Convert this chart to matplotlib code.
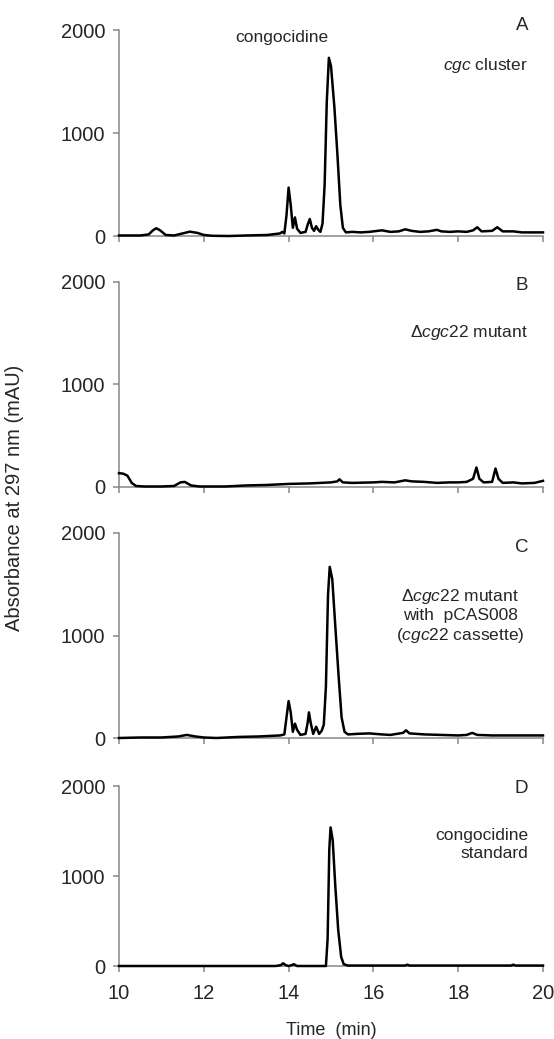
import matplotlib
matplotlib.use('Agg')
import matplotlib.pyplot as plt

plt.rcParams['font.family'] = ['Liberation Sans', 'DejaVu Sans']
plt.rcParams['mathtext.fontset'] = 'custom'
plt.rcParams['mathtext.rm'] = 'Liberation Sans'
plt.rcParams['mathtext.it'] = 'Liberation Sans:italic'

# chromatogram traces: time (min), absorbance (mAU)
time_a = [10.0, 10.5, 10.7, 10.8, 10.88, 10.97, 11.1, 11.3, 11.5, 11.67, 11.85, 12.0, 12.2, 12.6, 13.0, 13.5,
          13.7, 13.8, 13.85, 13.9, 13.95, 14.0, 14.05, 14.1, 14.15, 14.2, 14.28, 14.4, 14.45, 14.5, 14.55, 14.6,
          14.65, 14.7, 14.75, 14.8, 14.85, 14.9, 14.95, 15.0, 15.08, 15.15, 15.22, 15.28, 15.35, 15.5, 15.7,
          15.9, 16.2, 16.4, 16.6, 16.75, 16.9, 17.1, 17.3, 17.5, 17.6, 17.8, 18.0, 18.2, 18.35, 18.45, 18.55,
          18.8, 18.92, 19.05, 19.3, 19.5, 19.7, 20.0]
abs_a = [5, 5, 15, 55, 75, 55, 10, 5, 25, 42, 30, 10, 2, 0, 5, 10,
         20, 25, 40, 25, 200, 470, 300, 80, 180, 70, 30, 40, 110, 165, 80, 50,
         95, 60, 40, 120, 500, 1300, 1730, 1650, 1250, 800, 300, 80, 35, 40, 35,
         40, 55, 40, 45, 65, 50, 40, 45, 60, 45, 40, 45, 40, 55, 85, 45,
         50, 85, 45, 45, 35, 35, 35]

time_b = [10.0, 10.1, 10.2, 10.3, 10.4, 10.6, 11.0, 11.3, 11.45, 11.55, 11.7, 11.9, 12.5, 13.0, 13.5, 14.0,
          14.5, 15.0, 15.15, 15.2, 15.28, 15.5, 16.0, 16.2, 16.5, 16.75, 16.9, 17.2, 17.5, 17.8, 18.0, 18.2,
          18.35, 18.43, 18.5, 18.6, 18.8, 18.88, 18.95, 19.05, 19.3, 19.5, 19.8, 20.0]
abs_b = [135, 130, 110, 40, 10, 5, 5, 10, 45, 50, 15, 5, 5, 15, 20, 30,
         35, 45, 55, 75, 45, 40, 45, 50, 45, 65, 55, 50, 40, 45, 45, 50,
         80, 190, 80, 45, 50, 180, 80, 40, 45, 35, 40, 60]

time_c = [10.0, 10.5, 11.0, 11.4, 11.6, 11.8, 12.0, 12.3, 12.8, 13.3, 13.8, 13.9, 13.95, 14.0, 14.05, 14.1,
          14.15, 14.2, 14.28, 14.4, 14.45, 14.48, 14.52, 14.58, 14.65, 14.72, 14.78, 14.83, 14.88, 14.93, 14.97,
          15.03, 15.1, 15.18, 15.25, 15.32, 15.4, 15.6, 15.9, 16.2, 16.4, 16.7, 16.77, 16.85, 17.2, 17.6, 18.0,
          18.2, 18.33, 18.45, 18.8, 19.3, 20.0]
abs_c = [0, 5, 5, 15, 30, 15, 5, 0, 10, 15, 25, 35, 200, 360, 250, 60,
         140, 80, 30, 40, 150, 250, 150, 40, 110, 40, 70, 130, 500, 1400, 1670,
         1550, 1100, 600, 200, 60, 35, 40, 45, 35, 30, 50, 75, 45, 35, 30, 25,
         30, 50, 30, 25, 25, 25]

time_d = [10.0, 13.7, 13.82, 13.87, 13.93, 14.0, 14.08, 14.12, 14.2, 14.88, 14.92, 14.96, 14.99, 15.04, 15.1,
          15.17, 15.24, 15.3, 15.4, 16.0, 16.75, 16.8, 16.85, 19.25, 19.3, 19.35, 20.0]
abs_d = [0, 0, 10, 30, 10, 0, 10, 20, 0, 0, 300, 1300, 1540, 1400, 900,
         400, 100, 20, 5, 5, 5, 15, 5, 5, 15, 5, 5]

letters = ['A', 'B', 'C', 'D']
labels = ['$\\it{cgc}$ cluster', '$\\Delta\\it{cgc}$22 mutant',
          '$\\Delta\\it{cgc}$22 mutant\nwith  pCAS008\n($\\it{cgc}$22 cassette)',
          'congocidine\nstandard']
x_ticks = [10, 12, 14, 16, 18, 20]
y_ticks = [0, 1000, 2000]

W, H = 554, 1039
fig = plt.figure(figsize=(W / 100, H / 100), dpi=100)

# panel boxes in pixels: top, bottom of the plotting area
boxes = [(30, 236), (282, 487), (533, 738), (786, 966)]
left, right = 119, 543
spine_col = '#888888'
txt_col = '#262626'
letter_y = [1.02, 0.985, 0.93, 0.985]

traces = [(time_a, abs_a), (time_b, abs_b), (time_c, abs_c), (time_d, abs_d)]
axes = []
for i, (top, bot) in enumerate(boxes):
    ax = fig.add_axes([left / W, 1 - bot / H, (right - left) / W, (bot - top) / H])
    t, a = traces[i]
    ax.plot(t, a, color='black', lw=1.8, solid_joinstyle='round', clip_on=False, zorder=3)
    ax.set_xlim(10, 20)
    ax.set_ylim(0, 2000)
    ax.set_xticks(x_ticks)
    ax.set_yticks(y_ticks)
    for s in ['top', 'right']:
        ax.spines[s].set_visible(False)
    for s in ['left', 'bottom']:
        ax.spines[s].set_color(spine_col)
        ax.spines[s].set_linewidth(1.1)
    ax.tick_params(direction='out', length=4.3, width=1.1, color=spine_col,
                   labelsize=14.5, labelcolor=txt_col)
    ax.tick_params(axis='y', pad=5.5)
    ax.tick_params(axis='x', pad=9)
    if i < 3:
        ax.tick_params(axis='x', labelbottom=False)
    ax.text(0.965, letter_y[i], letters[i], transform=ax.transAxes, ha='right', va='center',
            fontsize=13.5, color=txt_col)
    axes.append(ax)

axes[0].text(19.65, 1660, labels[0], ha='right', va='center', fontsize=12.5, color=txt_col)
axes[0].text(13.85, 1930, 'congocidine', ha='center', va='center', fontsize=12.5, color=txt_col)
axes[1].text(19.65, 1510, labels[1], ha='right', va='center', fontsize=12.5, color=txt_col)
axes[2].text(18.05, 1190, labels[2], ha='center', va='center', fontsize=12.5, color=txt_col,
             multialignment='center', linespacing=1.2)
axes[3].text(19.65, 1350, labels[3], ha='right', va='center', fontsize=12.5, color=txt_col,
             multialignment='right', linespacing=1.2)

axes[3].set_xlabel('Time  (min)', fontsize=13, color=txt_col, labelpad=13)
fig.text(15 / W, 1 - 498 / H, 'Absorbance at 297 nm (mAU)', rotation=90, ha='center', va='center',
         fontsize=14.5, color=txt_col)

fig.savefig('out.png', dpi=100)
